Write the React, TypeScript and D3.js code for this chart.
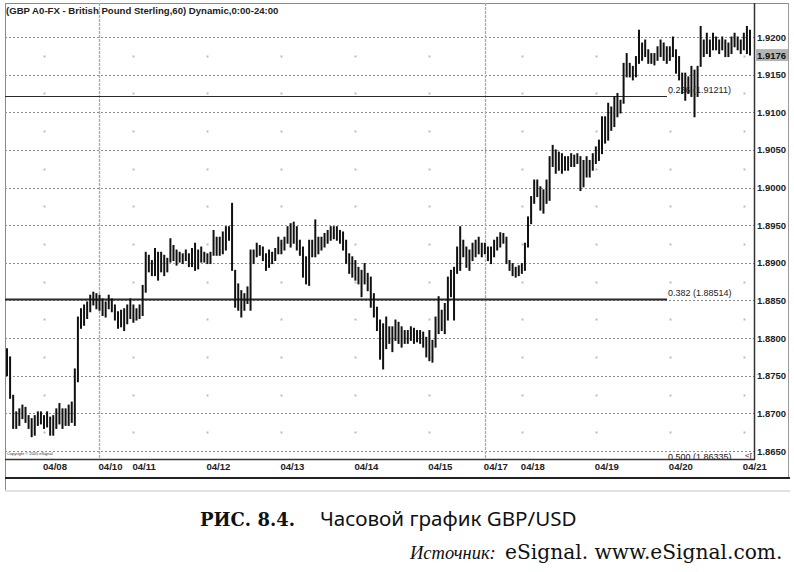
import React from 'react';
import * as d3 from 'd3';

// Hourly GBP/USD bars (high / low)
const HIGH = [
  1.8786,1.8775,1.8724,1.8702,1.8706,1.8711,1.8708,1.8697,1.8693,1.8697,
  1.8702,1.8702,1.8697,1.8702,1.8695,1.8697,1.8706,1.8713,1.8706,1.8706,
  1.8711,1.8715,1.8759,1.8828,1.8839,1.8844,1.8848,1.8857,1.8861,1.8859,
  1.8857,1.8852,1.8848,1.8857,1.8852,1.8844,1.8835,1.8837,1.8839,1.8844,
  1.8852,1.8844,1.8839,1.8844,1.8870,1.8914,1.8910,1.8903,1.8919,1.8914,
  1.8914,1.8910,1.8906,1.8932,1.8923,1.8917,1.8914,1.8912,1.8917,1.8912,
  1.8919,1.8926,1.8917,1.8921,1.8914,1.8912,1.8914,1.8943,1.8934,1.8934,
  1.8941,1.8948,1.8948,1.8979,1.8890,1.8872,1.8863,1.8859,1.8868,1.8917,
  1.8917,1.8926,1.8923,1.8921,1.8912,1.8917,1.8914,1.8919,1.8934,1.8930,
  1.8934,1.8948,1.8952,1.8954,1.8948,1.8930,1.8921,1.8908,1.8930,1.8930,
  1.8957,1.8934,1.8934,1.8939,1.8943,1.8948,1.8948,1.8948,1.8943,1.8941,
  1.8930,1.8912,1.8908,1.8903,1.8894,1.8890,1.8899,1.8886,1.8881,1.8859,
  1.8841,1.8824,1.8819,1.8828,1.8815,1.8815,1.8824,1.8821,1.8815,1.8810,
  1.8810,1.8815,1.8813,1.8810,1.8810,1.8808,1.8801,1.8810,1.8797,1.8828,
  1.8855,1.8837,1.8846,1.8881,1.8890,1.8894,1.8921,1.8948,1.8930,1.8921,
  1.8917,1.8926,1.8930,1.8934,1.8926,1.8926,1.8921,1.8921,1.8930,1.8934,
  1.8940,1.8939,1.8934,1.8903,1.8899,1.8894,1.8896,1.8899,1.8926,1.8961,
  1.8988,1.9010,1.9010,1.9001,1.8997,1.9010,1.9041,1.9056,1.9050,1.9047,
  1.9045,1.9041,1.9041,1.9045,1.9043,1.9045,1.9041,1.9036,1.9041,1.9036,
  1.9045,1.9054,1.9063,1.9094,1.9094,1.9112,1.9107,1.9121,1.9125,1.9116,
  1.9165,1.9178,1.9165,1.9161,1.9174,1.9209,1.9192,1.9196,1.9183,1.9178,
  1.9178,1.9187,1.9196,1.9192,1.9187,1.9187,1.9200,1.9183,1.9174,1.9152,
  1.9152,1.9147,1.9161,1.9156,1.9161,1.9214,1.9196,1.9205,1.9196,1.9205,
  1.9200,1.9196,1.9200,1.9196,1.9192,1.9200,1.9205,1.9200,1.9196,1.9205,
  1.9214,1.9209,
];
const LOW = [
  1.8750,1.8720,1.8680,1.8680,1.8684,1.8693,1.8688,1.8680,1.8669,1.8671,
  1.8684,1.8686,1.8680,1.8682,1.8671,1.8671,1.8680,1.8686,1.8680,1.8684,
  1.8684,1.8688,1.8684,1.8742,1.8813,1.8817,1.8826,1.8835,1.8844,1.8839,
  1.8837,1.8830,1.8828,1.8839,1.8835,1.8824,1.8813,1.8815,1.8810,1.8819,
  1.8826,1.8821,1.8824,1.8826,1.8830,1.8861,1.8888,1.8883,1.8883,1.8877,
  1.8888,1.8883,1.8888,1.8901,1.8903,1.8897,1.8901,1.8899,1.8903,1.8895,
  1.8895,1.8890,1.8892,1.8901,1.8901,1.8899,1.8899,1.8910,1.8910,1.8910,
  1.8912,1.8917,1.8930,1.8890,1.8841,1.8837,1.8828,1.8837,1.8846,1.8837,
  1.8899,1.8908,1.8910,1.8903,1.8890,1.8894,1.8899,1.8903,1.8912,1.8912,
  1.8917,1.8926,1.8921,1.8926,1.8917,1.8910,1.8881,1.8872,1.8870,1.8908,
  1.8908,1.8912,1.8917,1.8921,1.8926,1.8930,1.8932,1.8930,1.8926,1.8917,
  1.8899,1.8886,1.8881,1.8877,1.8872,1.8855,1.8872,1.8863,1.8841,1.8828,
  1.8810,1.8772,1.8759,1.8786,1.8793,1.8782,1.8797,1.8793,1.8788,1.8793,
  1.8793,1.8797,1.8793,1.8795,1.8793,1.8788,1.8775,1.8770,1.8768,1.8788,
  1.8806,1.8810,1.8806,1.8824,1.8855,1.8824,1.8886,1.8890,1.8908,1.8894,
  1.8890,1.8903,1.8908,1.8912,1.8908,1.8912,1.8903,1.8899,1.8908,1.8917,
  1.8921,1.8926,1.8899,1.8890,1.8883,1.8881,1.8883,1.8886,1.8890,1.8921,
  1.8952,1.8979,1.8988,1.8970,1.8966,1.8979,1.8983,1.9028,1.9019,1.9023,
  1.9019,1.9023,1.9023,1.9028,1.9028,1.9032,1.8996,1.9001,1.9014,1.9014,
  1.9023,1.9032,1.9036,1.9045,1.9059,1.9063,1.9076,1.9081,1.9094,1.9099,
  1.9112,1.9147,1.9147,1.9143,1.9147,1.9165,1.9169,1.9174,1.9165,1.9165,
  1.9163,1.9169,1.9174,1.9169,1.9165,1.9169,1.9174,1.9152,1.9143,1.9125,
  1.9116,1.9125,1.9121,1.9094,1.9121,1.9161,1.9174,1.9178,1.9174,1.9183,
  1.9183,1.9178,1.9183,1.9174,1.9174,1.9178,1.9187,1.9183,1.9178,1.9183,
  1.9178,1.9176,
];

const DAY_LABELS = ['04/08','04/10','04/11','04/12','04/13','04/14','04/15','04/17','04/18','04/19','04/20','04/21'];
const DAY_INDEX = [12, 30, 41, 65, 89, 113, 137, 155, 167, 191, 215, 239];
const WEEK_STARTS = ['04/10', '04/17'];
const PRICE_TICKS = [1.865,1.87,1.875,1.88,1.885,1.89,1.895,1.9,1.905,1.91,1.915,1.92];
const HALF_TICKS = [1.8675,1.8725,1.8775,1.8825,1.8875,1.8925,1.8975,1.9025,1.9075,1.9125,1.9175];
const FIB_LEVELS = [0.236, 0.382, 0.5];
const FIB_PRICES = [1.91211, 1.88514, 1.86335];
const LAST_PRICE = 1.9176;
const TITLE = '(GBP A0-FX - British Pound Sterling,60) Dynamic,0:00-24:00';
const COPYRIGHT = 'Copyright © 2005 eSignal';

const W = 794, H = 572;
const PL = 5, PR = 754, PT = 3, PB = 459;

export default function App() {
  const x = d3.scaleLinear().domain([0, HIGH.length - 1]).range([7, 750]);
  const y = d3.scaleLinear().domain([1.865, 1.92]).range([451, 37]);
  const fmt = d3.format('.4f');
  const sans = 'Liberation Sans, Arial, sans-serif';
  const r = (v: number) => Math.round(v) + 0.5;

  return (
    <svg width={W} height={H} viewBox={`0 0 ${W} ${H}`}
      style={{ position: 'absolute', left: 0, top: 0, background: '#fff' }}>
      <defs>
        <clipPath id="plot">
          <rect x={PL} y={PT} width={PR - PL} height={PB - PT} />
        </clipPath>
      </defs>
      <rect x={0} y={0} width={W} height={H} fill="#fff" />

      {/* frame */}
      <line x1={PL + 0.5} x2={PL + 0.5} y1={PT} y2={492} stroke="#8a8a8a" strokeWidth={1} />
      <line x1={PL} x2={789} y1={PT + 0.5} y2={PT + 0.5} stroke="#8a8a8a" strokeWidth={1} />
      <line x1={788.5} x2={788.5} y1={PT} y2={479} stroke="#9a9a9a" strokeWidth={1} />
      <line x1={PL} x2={790} y1={478} y2={478} stroke="#222" strokeWidth={2} />
      <line x1={PL} x2={790} y1={491} y2={491} stroke="#e2e2e2" strokeWidth={2} />

      {/* horizontal grid */}
      {PRICE_TICKS.map((v) => (
        <line key={'g' + v} x1={PL} x2={PR} y1={r(y(v))} y2={r(y(v))}
          stroke="#8c8c8c" strokeWidth={1} strokeDasharray="2 2" />
      ))}
      {/* week separators */}
      {DAY_LABELS.map((d, k) => WEEK_STARTS.includes(d) ? (
        <line key={'w' + d} x1={r(x(DAY_INDEX[k]))} x2={r(x(DAY_INDEX[k]))} y1={PT} y2={PB}
          stroke="#a8a8a8" strokeWidth={1.3} strokeDasharray="3 1" />
      ) : null)}
      {/* grid dots */}
      {DAY_LABELS.map((d, k) => WEEK_STARTS.includes(d) ? null : HALF_TICKS.map((v) => (
        <rect key={'d' + d + v} x={Math.round(x(DAY_INDEX[k])) - 0.5} y={Math.round(y(v)) - 0.5}
          width={2} height={2} fill="#bdbdbd" />
      )))}

      {/* fibonacci lines */}
      <g clipPath="url(#plot)">
        {FIB_PRICES.map((p, k) => (
          <line key={'f' + k} x1={PL} x2={667} y1={Math.round(y(p)) + 0.5} y2={Math.round(y(p)) + 0.5}
            stroke="#2a2a2a" strokeWidth={k === 1 ? 2 : 1} />
        ))}
      </g>

      {/* bars */}
      <g>
        {HIGH.map((h, i) => (
          <line key={'b' + i} x1={x(i)} x2={x(i)} y1={y(h) - 0.5} y2={y(LOW[i]) + 0.5}
            stroke="#111" strokeWidth={2} />
        ))}
      </g>

      {/* fib labels */}
      <g clipPath="url(#plot)">
        {FIB_PRICES.map((p, k) => (
          <text key={'fl' + k} x={668} y={y(p) - 3} fontFamily={sans} fontSize={9} fill="#222">
            {`${FIB_LEVELS[k].toFixed(3)} (${p.toFixed(5)})`}
          </text>
        ))}
        <text x={745} y={458} fontFamily={sans} fontSize={8} fill="#222">{'<['}</text>
      </g>

      {/* plot border */}
      <line x1={PR + 0.5} x2={PR + 0.5} y1={PT} y2={PB + 1} stroke="#333" strokeWidth={1.5} />
      <line x1={PL} x2={PR + 1} y1={PB + 0.5} y2={PB + 0.5} stroke="#333" strokeWidth={1.5} />

      {/* right price axis */}
      {PRICE_TICKS.map((v) => (
        <text key={'t' + v} x={757} y={y(v) + 3.5} fontFamily={sans} fontSize={9.5}
          fontWeight="bold" fill="#222">{fmt(v)}</text>
      ))}
      <rect x={756} y={y(LAST_PRICE) - 6} width={32} height={12} fill="#b4b4b4" />
      <text x={757} y={y(LAST_PRICE) + 3.5} fontFamily={sans} fontSize={9.5} fontWeight="bold" fill="#111">
        {fmt(LAST_PRICE)}
      </text>

      {/* date axis */}
      {DAY_LABELS.map((d, k) => (
        <text key={'x' + d} x={x(DAY_INDEX[k]) - 1} y={470} fontFamily={sans} fontSize={9.6}
          fontWeight="bold" fill="#222">{d}</text>
      ))}

      {/* title & copyright */}
      <text x={6} y={14} fontFamily={sans} fontSize={9.6} fontWeight="bold" fill="#222">{TITLE}</text>
      <text x={7} y={455} fontFamily={sans} fontSize={4} fill="#333">{COPYRIGHT}</text>

      {/* caption */}
      <text x={200} y={526} fontFamily="DejaVu Serif, serif" fontSize={18} fontWeight="bold" fill="#111">РИС. 8.4.</text>
      <text x={320} y={526} fontFamily="Noto Sans, sans-serif" fontSize={20.6} fill="#111">Часовой график GBP/USD</text>
      <text x={410} y={559} fontFamily="Liberation Serif, serif" fontSize={18.5} fontStyle="italic" fill="#111">Источник:</text>
      <text x={505} y={559} fontFamily="DejaVu Serif, serif" fontSize={20.2} fill="#111">eSignal. www.eSignal.com.</text>
    </svg>
  );
}
